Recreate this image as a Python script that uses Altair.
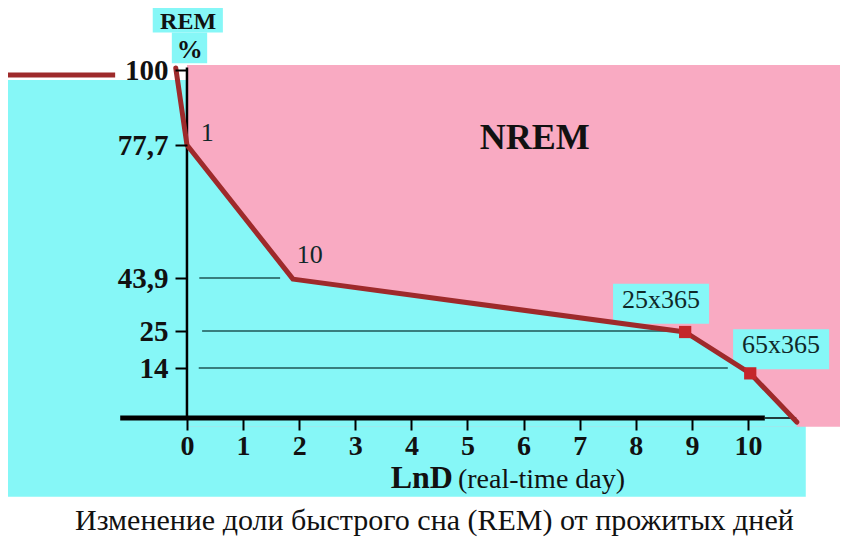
import altair as alt
import pandas as pd

# ---------------- data ----------------
# REM curve: x = ln D (real-time day), y = REM share, %
curve_x = [-0.2, 0.0, 1.89, 8.88, 10.04, 10.87]
curve_y = [100.6, 77.7, 43.5, 24.7, 12.5, -1.2]
# pre-birth flat level on the far left
pre_x = [-3.19, -1.28]
pre_y = [98.5, 98.5]
# square markers
marker_x = [8.88, 10.04]
marker_y = [24.7, 12.5]
# day labels on the curve
day_labels = ["1", "10", "25x365", "65x365"]
day_label_x = [0.36, 2.19, 8.45, 10.59]
day_label_y = [81.3, 49.7, 36.1, 20.8]
day_label_box = [False, False, True, True]
# axis ticks
x_ticks = [0, 1, 2, 3, 4, 5, 6, 7, 8, 9, 10]
y_ticks = [100, 77.7, 43.9, 25, 14]
# horizontal reference lines
grid_y = [43.9, 25, 14]
grid_x_start = [0.22, 0.27, 0.21]
grid_x_end = [1.66, 8.8, 9.64]

CYAN = "#86F7F7"
PINK = "#F9AAC2"
RED = "#9E2A2B"
MARK_RED = "#C4262A"
TEAL = "#1E5656"
INK = "#111111"
FONT = "Liberation Serif"

XS = alt.Scale(domain=[-3.19, 11.64], nice=False, zero=False)
YS = alt.Scale(domain=[-35.9, 0, 14, 25, 43.9, 77.7, 100, 118.2],
               range=[532, 410, 360, 323, 270, 137, 62, 0],
               nice=False, zero=False)

X_AXIS = alt.Axis(values=x_ticks, domain=False, grid=False, offset=-122,
                  tickSize=12, tickWidth=2, tickColor="black",
                  labelFont=FONT, labelFontSize=28, labelFontWeight="bold",
                  labelColor=INK, labelPadding=2, labelAngle=0,
                  labelFlush=False, labelOverlap=False, format="d", title=None,
                  zindex=2)
Y_AXIS = alt.Axis(values=y_ticks, domain=False, grid=False, offset=-179,
                  tickSize=12, tickWidth=2, tickColor="black",
                  labelFont=FONT, labelFontSize=29, labelFontWeight="bold",
                  labelColor=INK, labelPadding=7, labelFlush=False,
                  labelOverlap=False,
                  labelExpr="replace(format(datum.value, '~g'), '.', ',')",
                  title=None, zindex=2)


def X(f):
    return alt.X(f, scale=XS, axis=X_AXIS)


def Y(f):
    return alt.Y(f, scale=YS, axis=Y_AXIS)


# ---------------- background regions ----------------
regions = pd.DataFrame({
    "x": [-3.19, 0.0, -0.61, -0.27],
    "x2": [11.03, 11.64, 0.64, 0.36],
    "y": [-23.2, -2.6, 111.0, 102.0],
    "y2": [97.0, 101.5, 118.2, 111.0],
    "c": [CYAN, PINK, CYAN, CYAN],
})
bg = alt.Chart(regions).mark_rect().encode(
    x=X("x:Q"), x2="x2:Q", y=Y("y:Q"), y2="y2:Q",
    color=alt.Color("c:N", scale=None),
)

curve = pd.DataFrame({"x": curve_x, "y": curve_y, "i": list(range(len(curve_x)))})
curve["base"] = -2.6

below = alt.Chart(curve).transform_filter("datum.x >= 0").mark_area(
    color=CYAN, opacity=1, orient="vertical"
).encode(x=X("x:Q"), y=Y("y:Q"), y2="base:Q")

labels = pd.DataFrame({"t": day_labels, "x": day_label_x, "y": day_label_y,
                       "box": day_label_box})
boxes = alt.Chart(labels).transform_filter("datum.box").mark_rect(
    color=CYAN, width=96, height=40, yOffset=4
).encode(x=X("x:Q"), y=Y("y:Q"))

grid = alt.Chart(pd.DataFrame({"y": grid_y, "x": grid_x_start, "x2": grid_x_end})).mark_rule(
    color=TEAL, strokeWidth=1.6
).encode(x=X("x:Q"), x2="x2:Q", y=Y("y:Q"))

axis_lines = pd.DataFrame({
    "x": [0.0, -1.19, 10.3], "x2": [0.0, 10.3, 10.86],
    "y": [100.7, 0.0, 0.0], "y2": [-0.6, 0.0, 0.0], "w": [2.5, 5, 1.5],
})
axes_rules = alt.Chart(axis_lines).mark_rule(color="black").encode(
    x=X("x:Q"), x2="x2:Q", y=Y("y:Q"), y2="y2:Q",
    strokeWidth=alt.StrokeWidth("w:Q", scale=None),
)

line = alt.Chart(curve).mark_line(
    color=RED, strokeWidth=5, strokeCap="round", strokeJoin="round"
).encode(x=X("x:Q"), y=Y("y:Q"), order="i:Q")

pre = alt.Chart(pd.DataFrame({"x": [pre_x[0]], "x2": [pre_x[1]], "y": [pre_y[0]]})).mark_rule(
    color=RED, strokeWidth=5
).encode(x=X("x:Q"), x2="x2:Q", y=Y("y:Q"))

markers = alt.Chart(pd.DataFrame({"x": marker_x, "y": marker_y})).mark_square(
    size=150, color=MARK_RED, opacity=1, filled=True
).encode(x=X("x:Q"), y=Y("y:Q"))

day_text = alt.Chart(labels).mark_text(
    font=FONT, fontSize=26, color="#102828", align="center", baseline="middle"
).encode(x=X("x:Q"), y=Y("y:Q"), text="t:N")


def note(text, x, y, size, weight="normal", align="center", baseline="middle"):
    return alt.Chart(pd.DataFrame({"t": [text], "x": [x], "y": [y]})).mark_text(
        font=FONT, fontSize=size, fontWeight=weight, color=INK,
        align=align, baseline=baseline
    ).encode(x=X("x:Q"), y=Y("y:Q"), text="t:N")


texts = [
    note("REM", 0.02, 114.0, 24, "bold"),
    note("%", 0.05, 106.0, 26, "bold"),
    note("NREM", 6.2, 79.8, 36, "bold"),
    note("LnD", 4.74, -20.6, 32, "bold", align="right", baseline="alphabetic"),
    note("(real-time day)", 4.83, -20.6, 28, align="left", baseline="alphabetic"),
    note("Изменение доли быстрого сна (REM) от прожитых дней", 4.41, -32.9, 30,
         baseline="alphabetic"),
]

chart = alt.layer(
    bg, below, boxes, grid, axes_rules, pre, line, markers, day_text, *texts
).properties(
    width=832, height=532, padding=0, autosize="none", background="white"
).configure_view(stroke=None)

chart.save("out.html", embed_options={"renderer": "svg", "actions": False})
